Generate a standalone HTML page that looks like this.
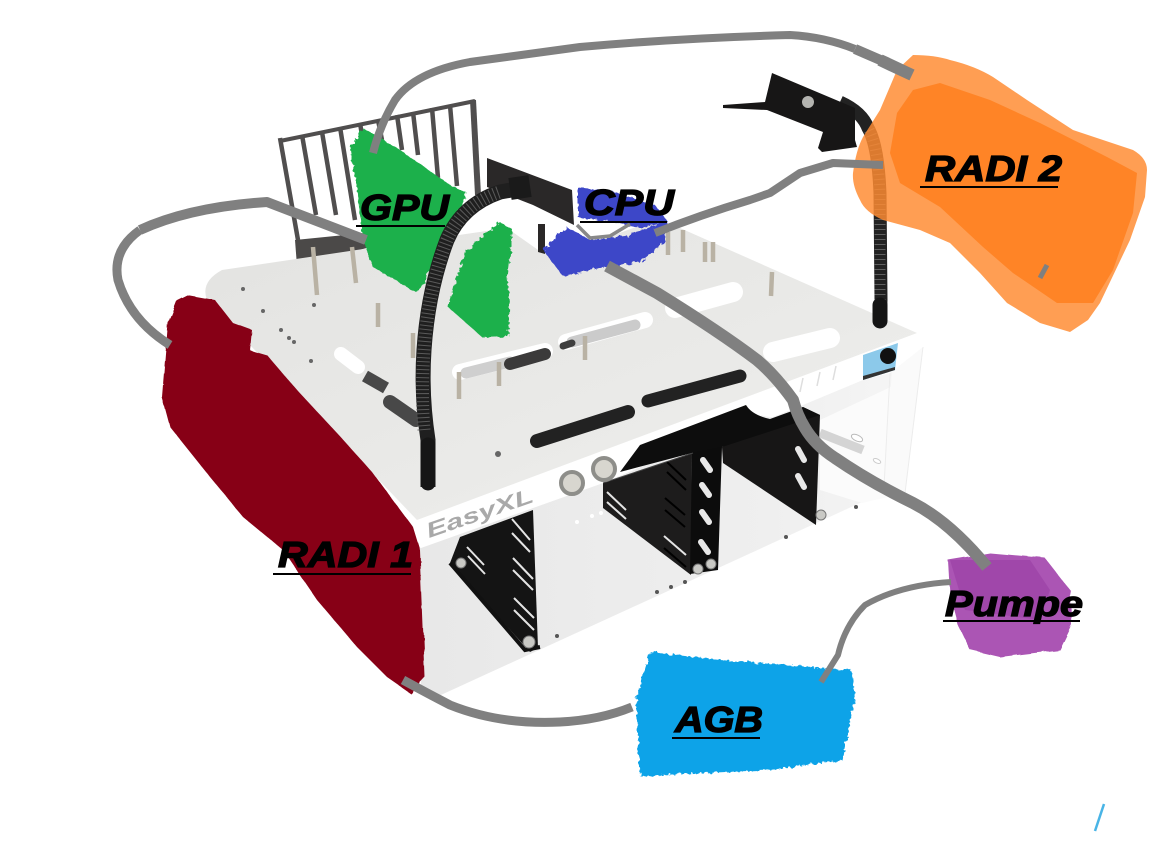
<!DOCTYPE html>
<html lang="de"><head><meta charset="utf-8"><title>EasyXL Wasserkühlung</title>
<style>html,body{margin:0;padding:0;background:#fff}svg{display:block}
text.l{font:italic bold 36px "Liberation Sans",Arial,sans-serif;fill:#000;stroke:#000;stroke-width:1.3}</style></head>
<body>
<svg width="1151" height="848" viewBox="0 0 1151 848" xmlns="http://www.w3.org/2000/svg">
<defs>
<filter id="r" x="-10%" y="-10%" width="120%" height="120%"><feTurbulence type="fractalNoise" baseFrequency=".22" numOctaves="2" seed="4"/><feDisplacementMap in="SourceGraphic" scale="6"/></filter>
<filter id="s" x="-10%" y="-10%" width="120%" height="120%"><feTurbulence type="fractalNoise" baseFrequency=".06" numOctaves="2" seed="8"/><feDisplacementMap in="SourceGraphic" scale="4"/></filter>
<linearGradient id="top" x1="0" y1="0" x2="1" y2="1"><stop offset="0" stop-color="#e3e3e1"/><stop offset=".6" stop-color="#eaeae8"/><stop offset="1" stop-color="#f1f1ef"/></linearGradient>
<linearGradient id="inn" x1="0" y1="0" x2="1" y2="0"><stop offset="0" stop-color="#e8e8e8"/><stop offset=".7" stop-color="#efefef"/><stop offset="1" stop-color="#f6f6f6"/></linearGradient>
</defs>

<!-- Rack -->
<g fill="none" stroke="#504e4e" stroke-width="4.5">
<path d="M280 141 L475 101" stroke-width="4"/>
<path d="M280 138 L298 240M302 135 L316 215M322 132 L336 215M340 127 L355 220M360 123 L366 160M378 120 L382 140M397 115 L402 150M413 112 L418 155M432 108 L438 178M450 105 L457 186"/>
<path d="M473 100 L478 195" stroke-width="6"/>
</g>
<path d="M295 240 L365 233 L370 247 L303 266 L297 266Z" fill="#4b4948"/>

<!-- Interior + bottom plate -->
<path d="M420 548 L603 483 L923 347 L905 493 L860 503 L430 700 L421 690Z" fill="url(#inn)"/>
<path d="M820 420 L895 385 L905 493 L862 503 L820 490Z" fill="#fbfbfb"/>
<path d="M820 433 L863 450" stroke="#d4d4d4" stroke-width="9" fill="none"/>
<ellipse cx="857" cy="438" rx="6" ry="3" fill="#fff" stroke="#bbb" transform="rotate(25 857 438)"/>
<ellipse cx="877" cy="461" rx="4" ry="2" fill="#fff" stroke="#ccc" transform="rotate(25 877 461)"/>
<!-- right frame -->
<path d="M892 370 L923 347 L905 493 L884 487Z" fill="#fafafa"/>
<path d="M905 493 L923 347" stroke="#ececec" fill="none"/>
<path d="M890 373 L884 487" stroke="#ececec" fill="none"/>

<!-- Brackets -->
<path d="M460 537 L533 510 L538 648 L530 652 L450 563 Z" fill="#141414"/>
<path d="M450 563 L525 650 L540 647" fill="none" stroke="#111" stroke-width="4"/>
<path d="M603 483 L692 453 L691 575 L603 508Z" fill="#1d1c1c"/>
<path d="M673 433 L695 428 L722 447 L718 570 L690 574 L692 453Z" fill="#0c0c0c"/>
<path d="M722 447 L803 407 L820 415 L816 525 L723 463Z" fill="#171616"/>
<g stroke="#e4e4e4" stroke-width="2" fill="none">
<path d="M467 547 L484 565M468 556 L485 574M512 519 L530 540M512 533 L530 552M513 558 L533 579M513 570 L533 590M514 598 L534 618M514 610 L534 630M607 492 L626 510M607 502 L626 519M664 536 L686 555"/>
</g>
<g stroke="#000" stroke-width="2" fill="none"><path d="M667 462 L686 480M667 472 L686 490M665 498 L685 515M665 510 L685 527M664 548 L686 567"/></g>
<g fill="none" stroke="#e8e8e8" stroke-width="6" stroke-linecap="round">
<path d="M703 460 L710 470M702 485 L709 495M702 512 L709 522M701 542 L708 552M798 449 L804 460M798 476 L804 487"/></g>
<g fill="#c9c9c5" stroke="#777"><circle cx="461" cy="563" r="5"/><circle cx="529" cy="642" r="6"/><circle cx="698" cy="569" r="5"/><circle cx="711" cy="564" r="5"/><circle cx="821" cy="515" r="5"/></g>
<g fill="#555"><circle cx="557" cy="636" r="2"/><circle cx="657" cy="592" r="2"/><circle cx="671" cy="587" r="2"/><circle cx="685" cy="582" r="2"/><circle cx="786" cy="537" r="2"/><circle cx="856" cy="507" r="2"/></g>
<g fill="#fff"><circle cx="577" cy="522" r="2"/><circle cx="592" cy="516" r="2"/><circle cx="601" cy="513" r="2"/></g>

<!-- Top plate and lip -->
<path d="M417 520 L207 300 Q200 282 222 270 L370 248 L507 228 L541 252 L600 240 L650 222 L680 228 L917 333 L905 345 L603 465Z" fill="url(#top)"/>
<path d="M417 520 Q425 530 421 548 L603 483 Q622 473 630 460 Q640 445 660 438 L746 405 Q760 418 773 417 L803 405 L863 380 L890 373 L923 347 Q923 340 917 333 L760 392 Z" fill="#fff"/>
<path d="M620 472 L640 445 L746 405 Q752 415 770 419 L803 407 L820 415 L722 447 L692 453Z" fill="#0d0d0d"/>
<path d="M603 483 L693 453" stroke="#444" fill="none"/>
<path d="M803 378 L800 392M820 372 L817 386M836 366 L833 380" stroke="#dedede" stroke-width="1.5" fill="none"/>

<!-- slots -->
<g fill="none" stroke-linecap="round">
<path d="M537 441 L628 412" stroke="#222" stroke-width="14"/>
<path d="M648 401 L740 376" stroke="#222" stroke-width="13"/>
<path d="M460 372 L545 351" stroke="#fff" stroke-width="16"/>
<path d="M466 373 L510 362" stroke="#cfcfcf" stroke-width="11"/>
<path d="M510 364 L545 354" stroke="#3b3a3a" stroke-width="12"/>
<path d="M566 342 L645 320" stroke="#fff" stroke-width="16"/>
<path d="M572 342 L635 325" stroke="#cbcbcb" stroke-width="11"/>
<path d="M563 346 L572 343" stroke="#3f3f3f" stroke-width="7"/>
<path d="M675 308 L733 292" stroke="#fff" stroke-width="20"/>
<path d="M773 352 L830 338" stroke="#fff" stroke-width="20"/>
<path d="M341 354 L358 367" stroke="#fff" stroke-width="14"/>
<path d="M365 376 L386 388" stroke="#484848" stroke-width="12" stroke-linecap="butt"/>
<path d="M390 402 L416 420" stroke="#484848" stroke-width="14"/>
</g>
<!-- pins -->
<g stroke="#b9b2a4" stroke-width="4.5" fill="none">
<path d="M313 247 L317 295M352 247 L356 283M378 303 L378 327M413 333 L413 358M459 372 L459 399M499 362 L499 386M585 336 L585 360M668 232 L668 255M683 230 L683 252M705 242 L705 262M713 242 L713 262M772 272 L771 296"/>
</g>
<g fill="#666"><circle cx="243" cy="289" r="2"/><circle cx="263" cy="311" r="2"/><circle cx="281" cy="330" r="2"/><circle cx="289" cy="338" r="2"/><circle cx="294" cy="342" r="2"/><circle cx="311" cy="361" r="2"/><circle cx="314" cy="305" r="2"/><circle cx="498" cy="454" r="3"/></g>

<!-- buttons / logo -->
<g stroke="#8e8e8a" stroke-width="4" fill="#d8d6cf"><circle cx="572" cy="483" r="11"/><circle cx="604" cy="469" r="11"/></g>
<text x="429" y="538" transform="rotate(-19 429 538)" font-family="Liberation Sans,sans-serif" font-style="italic" font-weight="bold" font-size="21" fill="#a9a9a9" textLength="112" lengthAdjust="spacingAndGlyphs">EasyXL</text>
<path d="M863 355 L898 343 L895 370 L863 380Z" fill="#8cc9ea"/><circle cx="888" cy="356" r="8" fill="#111"/>
<path d="M863 376 L895 367 L895 370 L863 380Z" fill="#333"/>

<!-- Paint under goosenecks -->
<g fill="#1eb04c" filter="url(#r)">
<path d="M350 147 L363 128 L400 150 L450 185 L467 193 L450 233 L430 270 L417 293 L373 267 L363 240 L357 190Z"/>
<path d="M500 222 L513 230 L507 277 L510 303 L508 337 L483 338 L448 307 L453 287 L467 250Z"/>
</g>

<!-- CPU gooseneck -->
<path d="M487 158 L572 190 L574 225 L533 205 L487 187Z" fill="#2a2828"/>
<path d="M538 224 L545 224 L545 254 L538 252Z" fill="#2a2828"/>
<g fill="#3c46c8" filter="url(#r)">
<path d="M578 188 L612 191 L655 205 L668 222 L640 228 L600 220 L578 218Z"/>
<path d="M543 250 L567 227 L590 240 L625 236 L665 222 L665 242 L640 262 L600 268 L563 276Z"/>
</g>
<path d="M577 225 L590 238 L610 236 L630 224" fill="none" stroke="#888" stroke-width="3.5"/>
<path d="M428 487 L428 440 Q421 395 424 350 Q428 290 447 240 Q462 205 500 192 L528 187" fill="none" stroke="#1f1f1f" stroke-width="15"/>
<path d="M424 430 Q421 395 424 350 Q428 290 447 240 Q462 205 500 192" fill="none" stroke="#5a5a5a" stroke-width="13" stroke-dasharray="1 3"/>
<path d="M428 445 L428 483" stroke="#161616" stroke-width="15" stroke-linecap="round"/>
<path d="M510 189 L530 186" stroke="#1a1a1a" stroke-width="22"/>

<!-- RADI2 gooseneck and bracket -->
<path d="M880 325 L881 300 L880 193 Q878 145 868 128 Q862 112 840 102" fill="none" stroke="#222" stroke-width="13"/>
<path d="M880 305 L880 193 Q878 145 868 128" fill="none" stroke="#5f5f5f" stroke-width="11" stroke-dasharray="1 4"/>
<path d="M880 305 L880 321" stroke="#151515" stroke-width="15" stroke-linecap="round"/>
<path d="M723 105 L765 102 L772 73 L855 108 L855 140 L857 147 L822 152 L818 148 L823 132 L767 110 L723 108Z" fill="#171616"/>
<circle cx="808" cy="102" r="6" fill="#b4b4b0"/>

<!-- Orange / red / purple / cyan -->
<path d="M913 55 Q935 55 950 60 Q975 66 993 77 L1027 100 L1073 130 L1133 150 Q1147 158 1147 170 L1145 197 L1130 240 L1100 303 L1088 320 L1070 332 L1040 323 L1007 303 L980 273 L950 243 L920 230 L883 220 Q865 212 860 200 Q852 185 853 173 Q856 150 863 137 L880 110 L897 70Z" fill="#ff8c32" fill-opacity=".84"/>
<path d="M913 90 L940 83 L990 100 L1040 123 L1107 157 L1137 173 L1133 213 L1113 270 L1093 303 L1057 303 L1013 273 L983 247 L940 207 L900 183 L890 153 L897 113Z" fill="#ff8426"/>
<path d="M187 295 L215 300 L233 323 L252 330 L250 350 L267 355 L297 390 L337 433 L373 473 L413 527 L420 550 L425 677 L410 693 L387 677 L357 647 L317 600 L283 550 L243 517 L210 477 L170 427 L162 397 L168 323 L177 300Z" fill="#870018" filter="url(#s)"/>
<path d="M948 560 L990 553 L1045 558 L1070 590 L1072 625 L1060 650 L1000 657 L970 650 L958 625 L950 595Z" fill="#ab55b4" filter="url(#s)"/>
<path d="M950 560 L1030 560 L1050 590 L1040 620 L965 610Z" fill="#a047aa"/>
<path d="M650 652 L720 660 L852 670 L855 700 L842 760 L770 770 L640 776 L636 700Z" fill="#0aa3e8" filter="url(#r)"/>

<!-- Hoses -->
<g fill="none" stroke="#808080" stroke-linejoin="round">
<path d="M373 153 Q380 125 395 100 Q415 72 470 62 L580 47 Q680 38 790 35 Q825 37 855 49" stroke-width="8"/>
<path d="M855 49 L885 62" stroke-width="10"/>
<path d="M880 60 L912 75" stroke-width="12"/>
<path d="M140 230 Q112 250 118 280 Q130 320 170 345" stroke-width="9"/>
<path d="M140 230 Q190 207 267 202 L366 240" stroke-width="10"/>
<path d="M655 233 Q700 215 750 200 L770 193 L800 173 L833 163 L883 165" stroke-width="8"/>
<path d="M607 266 L657 293 Q720 332 757 360 Q775 375 793 400 Q797 415 805 428 Q815 445 835 458 Q870 482 913 503 Q950 522 987 567" stroke-width="12"/>
<path d="M951 582 Q900 585 865 605 Q845 625 838 655 L821 682" stroke-width="6"/>
<path d="M403 680 Q425 692 450 705 Q500 725 560 722 Q600 720 632 707" stroke-width="9"/>
<path d="M1047 265 L1040 278" stroke-width="5"/>
</g>
<path d="M1095 831 L1104 804" stroke="#49b4e6" stroke-width="2.5"/>

<!-- Labels -->
<g>
<text class="l" x="360" y="220" textLength="89" lengthAdjust="spacingAndGlyphs">GPU</text>
<text class="l" x="584" y="215" textLength="90" lengthAdjust="spacingAndGlyphs">CPU</text>
<text class="l" x="925" y="181" textLength="137" lengthAdjust="spacingAndGlyphs">RADI 2</text>
<text class="l" x="278" y="567" textLength="135" lengthAdjust="spacingAndGlyphs">RADI 1</text>
<text class="l" x="675" y="732" textLength="88" lengthAdjust="spacingAndGlyphs">AGB</text>
<text class="l" x="945" y="616" textLength="138" lengthAdjust="spacingAndGlyphs">Pumpe</text>
</g>
<g stroke="#000" stroke-width="2"><path d="M356 226 L445 226M580 222 L667 222M920 187 L1058 187M273 574 L411 574M672 738 L760 738M943 621 L1080 621"/></g>
</svg>
</body></html>
